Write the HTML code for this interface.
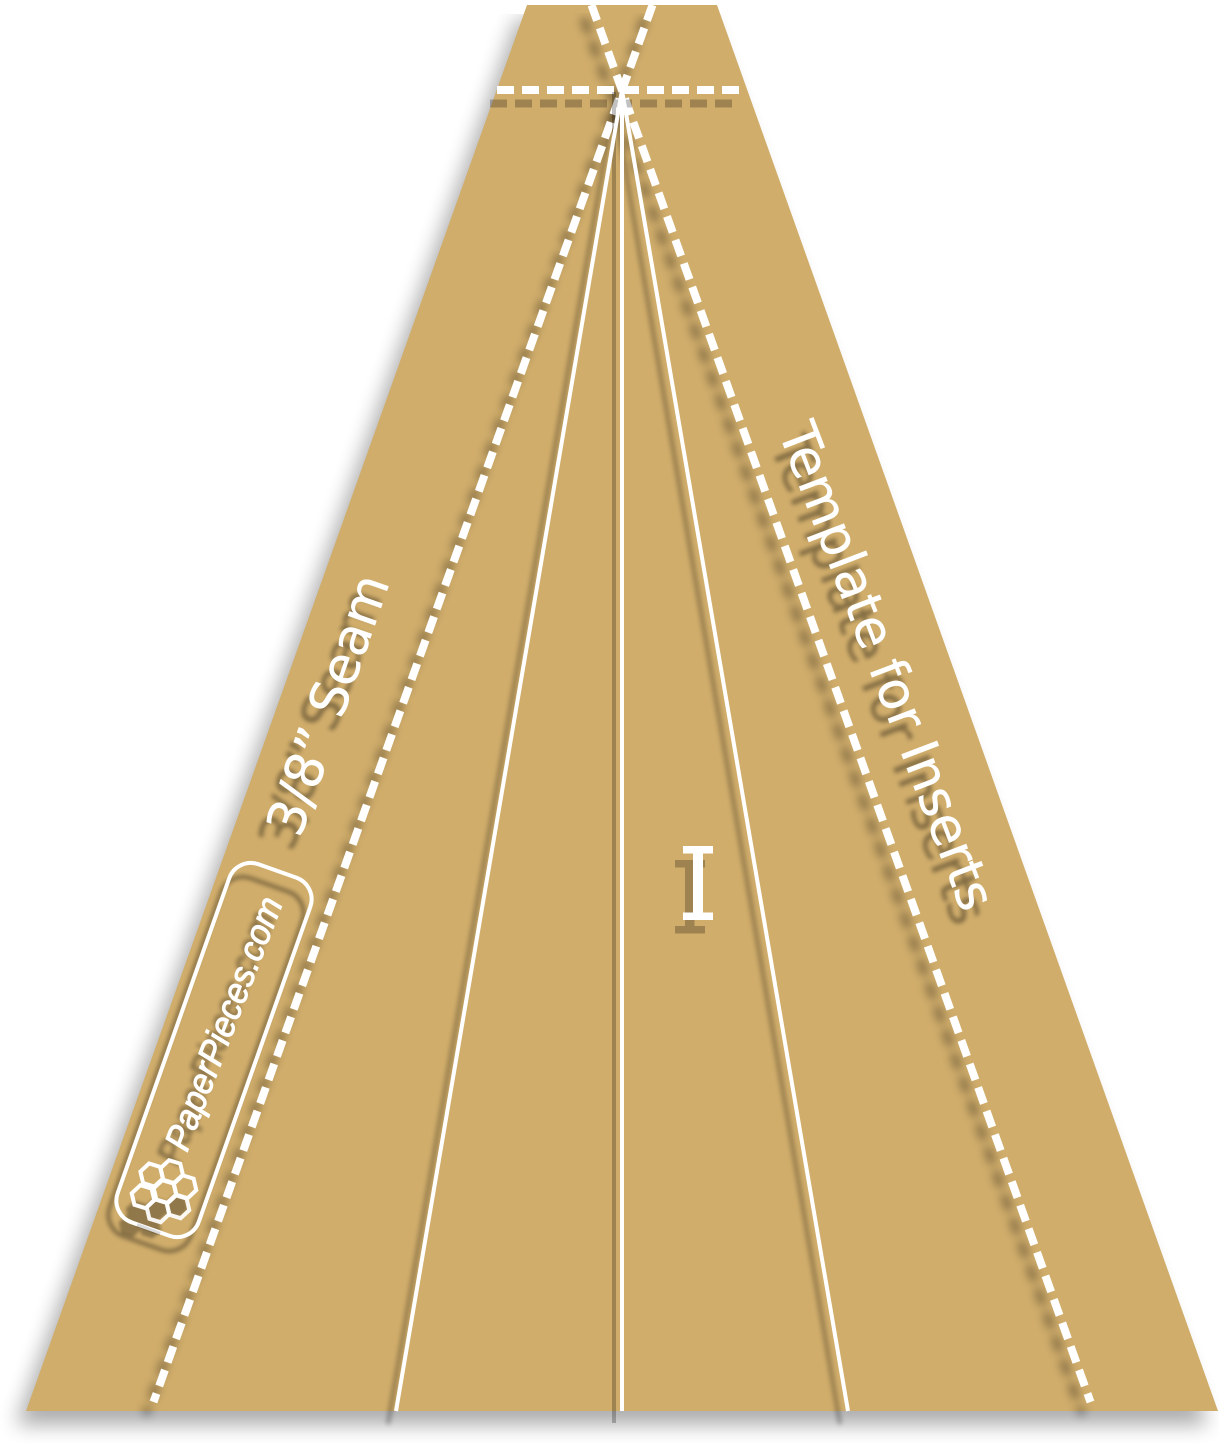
<!DOCTYPE html>
<html><head><meta charset="utf-8"><style>
html,body{margin:0;padding:0;background:#fff;width:1229px;height:1443px;overflow:hidden}
svg{display:block}
text{font-family:"DejaVu Sans","Liberation Sans",sans-serif}
text.w{fill:#fff}
text.k{fill:#000}
text.pp{font-family:"Liberation Sans",sans-serif;font-style:italic}
</style></head><body>
<svg width="1229" height="1443" viewBox="0 0 1229 1443" xmlns="http://www.w3.org/2000/svg">
<defs>
<filter id="b" filterUnits="userSpaceOnUse" x="0" y="0" width="1229" height="1443"><feGaussianBlur stdDeviation="10"/></filter>
<filter id="s" filterUnits="userSpaceOnUse" x="0" y="0" width="1229" height="1443"><feGaussianBlur stdDeviation="4.5"/></filter>
<filter id="i" filterUnits="userSpaceOnUse" x="0" y="0" width="1229" height="1443"><feGaussianBlur stdDeviation="2.5"/></filter>
<filter id="t" filterUnits="userSpaceOnUse" x="0" y="0" width="1229" height="1443"><feGaussianBlur stdDeviation="2"/></filter>
<filter id="l" filterUnits="userSpaceOnUse" x="0" y="0" width="1229" height="1443"><feGaussianBlur stdDeviation="1.5"/></filter>
<polygon id="h" points="11.3,3.45 2.65,11.5 -8.6,8.05 -11.3,-3.45 -2.65,-11.5 8.6,-8.05"/>
</defs>
<polygon points="527,5 717,5 1218,1411 26,1411" fill="#000" opacity=".32" transform="translate(-10,14)" filter="url(#b)"/>
<polygon points="527,5 717,5 1218,1411 26,1411" fill="#d0ad6b"/>

<!-- blurred shadows -->
<g transform="translate(-8,13)" filter="url(#s)" opacity=".34" fill="none" stroke="#000">
<path d="M153.5 1402L652.5 5M1090.5 1402L591.5 5" stroke-width="8" stroke-dasharray="17 8" stroke-dashoffset="8"/>
</g>
<g transform="translate(-8,13)" filter="url(#i)" opacity=".3" fill="none" stroke="#000">
<path d="M622 90L396 1411M622 90L848 1411" stroke-width="4"/>
</g>
<g transform="translate(-8,14)" filter="url(#t)" opacity=".38">
<text class="k" stroke="#000" stroke-width=".4" transform="translate(300,839) rotate(-70.7)" font-size="52" textLength="272" lengthAdjust="spacingAndGlyphs">3/8” Seam</text>
<text class="k" stroke="#000" stroke-width=".4" transform="translate(778,431) rotate(69.1)" font-size="52" textLength="517" lengthAdjust="spacingAndGlyphs">Template for Inserts</text>
<text class="k pp" stroke="#000" stroke-width="1" transform="translate(187,1153) rotate(-69)" font-size="36" textLength="268" lengthAdjust="spacingAndGlyphs">PaperPieces.com</text>
<rect x="-190" y="-43" width="380" height="86" rx="23" fill="none" stroke="#000" stroke-width="4" transform="translate(214,1050) rotate(-70.5)"/>
</g>
<!-- logo shadow -->
<g opacity=".3" fill="#000" filter="url(#l)">
<use href="#h" x="137" y="1212"/>
<use href="#h" x="157" y="1209"/>
<use href="#h" x="177" y="1206"/>
<use href="#h" x="150" y="1227"/>
<use href="#h" x="130" y="1226"/>
</g>

<!-- white linework beneath sharp shadows -->
<g fill="none" stroke="#fff">
<path d="M153.5 1402L652.5 5M1090.5 1402L591.5 5" stroke-width="8" stroke-dasharray="17 8" stroke-dashoffset="8"/>
<path d="M497 90H739" stroke-width="8" stroke-dasharray="17 8"/>
</g>

<!-- sharp shadows -->
<g fill="none" stroke="#000" opacity=".24">
<path d="M490 103.500H732" stroke-width="8" stroke-dasharray="17 8"/>
<path d="M614 92V1423" stroke-width="4"/>
</g>
<path d="M675 860H705V867.5H694.5V926H705V933.5H675V926H685V867.5H675Z" fill="#000" opacity=".24"/>
<path d="M683 846H713V853.5H703V912.5H713V920H683V912.5H693V853.5H683Z" fill="#fff"/>

<!-- inner lines on top -->
<path d="M622 90L396 1411M622 90V1411M622 90L848 1411" fill="none" stroke="#fff" stroke-width="4"/>

<!-- labels -->
<text class="w" stroke="#fff" stroke-width=".4" transform="translate(300,839) rotate(-70.7)" font-size="52" textLength="272" lengthAdjust="spacingAndGlyphs">3/8” Seam</text>
<text class="w" stroke="#fff" stroke-width=".4" transform="translate(778,431) rotate(69.1)" font-size="52" textLength="517" lengthAdjust="spacingAndGlyphs">Template for Inserts</text>
<text class="w pp" stroke="#fff" stroke-width="1" transform="translate(187,1153) rotate(-69)" font-size="36" textLength="268" lengthAdjust="spacingAndGlyphs">PaperPieces.com</text>
<rect x="-190" y="-43" width="380" height="86" rx="23" fill="none" stroke="#fff" stroke-width="4" transform="translate(214,1050) rotate(-70.5)"/>
<g fill="none" stroke="#fff" stroke-width="4" stroke-linejoin="miter">
<use href="#h" x="151.7" y="1175"/>
<use href="#h" x="171.7" y="1171.7"/>
<use href="#h" x="185" y="1186.7"/>
<use href="#h" x="165" y="1191.7"/>
<use href="#h" x="143" y="1196.7"/>
<use href="#h" x="158" y="1210.7" opacity=".92"/>
<use href="#h" x="178" y="1206.7" opacity=".92"/>
</g>
<path d="M137 1225L160 1234" fill="none" stroke="#000" stroke-width="4" opacity=".14"/>
</svg>
</body></html>
